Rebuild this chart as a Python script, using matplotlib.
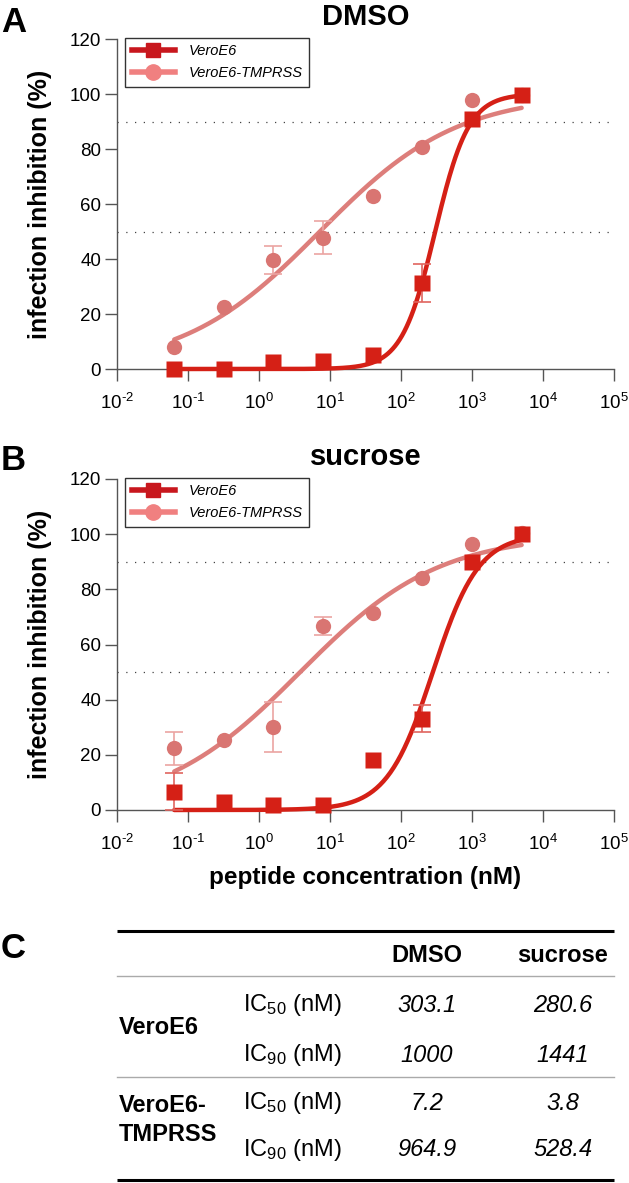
import numpy as np
import matplotlib
matplotlib.use("Agg")
import matplotlib.pyplot as plt
from matplotlib.lines import Line2D

plt.rcParams['font.family'] = ['Liberation Sans', 'DejaVu Sans']
plt.rcParams['mathtext.fontset'] = 'custom'
plt.rcParams['mathtext.rm'] = 'Liberation Sans'
plt.rcParams['mathtext.it'] = 'Liberation Sans:italic'
plt.rcParams['mathtext.bf'] = 'Liberation Sans:bold'

# nồng độ peptide (nM)
conc = [0.064, 0.32, 1.6, 8, 40, 200, 1000, 5000]

# DMSO
dmso_vero = [0, 0, 2.4, 3.0, 5.2, 31.2, 91, 99.6]
dmso_vero_err = [0, 0, 0, 0, 0, 7, 0, 0]
dmso_tmprss = [7.9, 22.4, 39.7, 47.8, 62.8, 80.7, 97.9, 99.5]
dmso_tmprss_err = [0, 0, 5, 6, 0, 0, 0, 0]

# sucrose
suc_vero = [6.7, 2.8, 1.8, 1.8, 18.2, 33.1, 90, 100]
suc_vero_err = [6.6, 0, 0, 0, 0, 5, 0, 0]
suc_tmprss = [22.4, 25.5, 30.1, 66.7, 71.5, 84.0, 96.4, 100.5]
suc_tmprss_err = [6, 0, 9, 3.2, 0, 0, 0, 0]

# IC50 / IC90 (nM) - bảng C
cell_lines = ['VeroE6', 'VeroE6-\nTMPRSS']
ic50_dmso = [303.1, 7.2]
ic90_dmso = [1000, 964.9]
ic50_suc = [280.6, 3.8]
ic90_suc = [1441, 528.4]
table_dmso = ['303.1', '1000', '7.2', '964.9']
table_suc = ['280.6', '1441', '3.8', '528.4']

red = '#d52016'
red_err = '#e0655f'
pink = '#d97572'
pink_line = '#dd7e7b'
pink_err = '#eba4a2'


def hill(x, ic50, ic90):
    # đường cong fit từ IC50 và IC90
    n = np.log(9) / np.log(ic90 / ic50)
    return 100 / (1 + (ic50 / x) ** n)


def err_bars(ax, y, err, color, z):
    # chỉ vẽ thanh sai số nhìn thấy được
    x = np.array(conc)
    y = np.array(y)
    e = np.array(err)
    m = e > 0
    ax.errorbar(x[m], y[m], yerr=e[m], fmt='none', ecolor=color,
                elinewidth=1.2, capsize=6.5, capthick=1.2, zorder=z, clip_on=False)


def draw_panel(ax, title, vero, vero_err, tmp, tmp_err, i50, i90):
    xs = np.logspace(np.log10(conc[0]), np.log10(conc[-1]), 300)
    ax.axhline(50, color='#444444', lw=0.9, ls=(0, (1, 6)), zorder=1)
    ax.axhline(90, color='#444444', lw=0.9, ls=(0, (1, 6)), zorder=1)

    ax.plot(xs, hill(xs, i50[1], i90[1]), color=pink_line, lw=3.2,
            solid_capstyle='round', zorder=2, clip_on=False)
    err_bars(ax, tmp, tmp_err, pink_err, 3)
    ax.plot(conc, tmp, 'o', color=pink, ms=11, mec='none', zorder=4, clip_on=False)

    ax.plot(xs, hill(xs, i50[0], i90[0]), color=red, lw=3.2,
            solid_capstyle='round', zorder=5, clip_on=False)
    err_bars(ax, vero, vero_err, red_err, 6)
    ax.plot(conc, vero, 's', color=red, ms=11, mec='none', zorder=7, clip_on=False)

    ax.set_xscale('log')
    ax.set_xlim(1e-2, 1e5)
    ax.set_ylim(0, 120)
    ax.set_xticks([10.0 ** k for k in range(-2, 6)])
    ax.set_xticklabels(['10$^{%s}$' % str(k).replace('-', '\u2010') for k in range(-2, 6)])
    ax.minorticks_off()
    ax.set_yticks(range(0, 121, 20))
    ax.spines['top'].set_visible(False)
    ax.spines['right'].set_visible(False)
    for s in ['left', 'bottom']:
        ax.spines[s].set_color('#555555')
        ax.spines[s].set_linewidth(1.0)
    ax.tick_params(axis='both', length=8.5, width=1.0, color='#555555',
                   labelsize=13.5, direction='out')
    ax.tick_params(axis='x', pad=9)
    ax.tick_params(axis='y', pad=3)
    ax.set_ylabel('infection inhibition (%)', fontsize=18, fontweight='bold', labelpad=13)
    ax.set_title(title, fontsize=21, fontweight='bold', pad=10)

    handles = [Line2D([], [], color='#c8171d', lw=4, marker='s', ms=10),
               Line2D([], [], color='#f08080', lw=4, marker='o', ms=11)]
    leg = ax.legend(handles, ['VeroE6', 'VeroE6-TMPRSS'], loc='upper left',
                    bbox_to_anchor=(0.016, 1.004), borderaxespad=0,
                    prop={'style': 'italic', 'size': 10.5}, handlelength=3.0,
                    handletextpad=0.9, labelspacing=0.55, borderpad=0.45,
                    fancybox=False, edgecolor='#333333', framealpha=1)
    leg.get_frame().set_linewidth(1.0)


fig = plt.figure(figsize=(6.29, 11.83), dpi=100)
W, H = 629, 1183

axA = fig.add_axes([117 / W, 1 - 369 / H, 497 / W, 330 / H])
axB = fig.add_axes([117 / W, 1 - 810 / H, 497 / W, 331 / H])
draw_panel(axA, 'DMSO', dmso_vero, dmso_vero_err, dmso_tmprss, dmso_tmprss_err,
           [ic50_dmso[0], ic50_dmso[1]], [ic90_dmso[0], ic90_dmso[1]])
draw_panel(axB, 'sucrose', suc_vero, suc_vero_err, suc_tmprss, suc_tmprss_err,
           [ic50_suc[0], ic50_suc[1]], [ic90_suc[0], ic90_suc[1]])
axB.set_xlabel('peptide concentration (nM)', fontsize=17.5, fontweight='bold', labelpad=8)

# lớp phủ toàn hình cho chữ cái panel và bảng
ov = fig.add_axes([0, 0, 1, 1])
ov.set_xlim(0, W)
ov.set_ylim(H, 0)
ov.axis('off')
ov.patch.set_alpha(0)

for lab, yy in [('A', 22), ('B', 460), ('C', 948)]:
    ov.text(1, yy, lab, fontsize=25, fontweight='bold', ha='left', va='center')

# bảng C
x0, x1 = 117, 614
ov.plot([x0, x1], [931, 931], color='black', lw=2.2, solid_capstyle='butt')
ov.plot([x0, x1], [976, 976], color='#aaaaaa', lw=1.0)
ov.plot([x0, x1], [1077, 1077], color='#aaaaaa', lw=1.0)
ov.plot([x0, x1], [1180, 1180], color='black', lw=2.2, solid_capstyle='butt')

col_dmso, col_suc = 427, 563
fs = 17
ov.text(col_dmso, 955, 'DMSO', fontsize=fs, fontweight='bold', ha='center', va='center')
ov.text(col_suc, 955, 'sucrose', fontsize=fs, fontweight='bold', ha='center', va='center')

row_y = [1005, 1055, 1103, 1150]
ic_labels = ['IC$_{50}$ (nM)', 'IC$_{90}$ (nM)', 'IC$_{50}$ (nM)', 'IC$_{90}$ (nM)']
for i, yy in enumerate(row_y):
    ov.text(243, yy, ic_labels[i], fontsize=fs, ha='left', va='center')
    ov.text(col_dmso, yy, table_dmso[i], fontsize=fs, style='italic', ha='center', va='center')
    ov.text(col_suc, yy, table_suc[i], fontsize=fs, style='italic', ha='center', va='center')

ov.text(119, 1027, cell_lines[0], fontsize=fs, fontweight='bold', ha='left', va='center')
ov.text(119, 1120, cell_lines[1], fontsize=fs, fontweight='bold', ha='left', va='center',
        linespacing=1.3)

fig.savefig('out.png', dpi=100)
